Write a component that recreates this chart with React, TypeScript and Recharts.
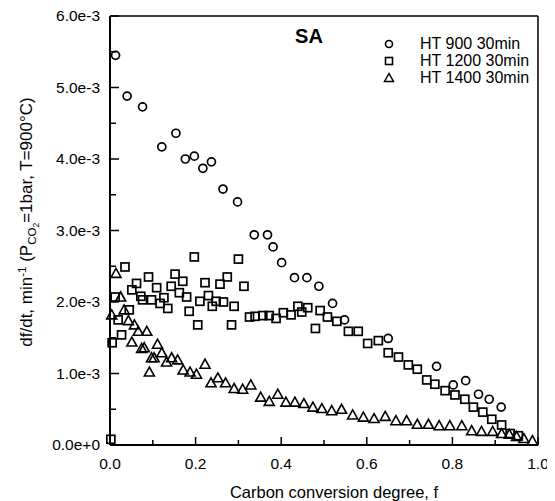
import React from 'react';
import { ScatterChart, Scatter, XAxis, YAxis, ReferenceLine, Legend, Customized } from 'recharts';

const FONT = '"Liberation Sans", Arial, Helvetica, sans-serif';

// HT 900 30min (circles)
const ht900F = [0.013, 0.040, 0.076, 0.121, 0.154, 0.176, 0.197, 0.217, 0.237, 0.264, 0.298, 0.337, 0.368, 0.381, 0.401, 0.431, 0.460, 0.488, 0.520, 0.548, 0.650, 0.763, 0.802, 0.831, 0.861, 0.886, 0.914];
const ht900R = [0.00545, 0.00488, 0.00473, 0.00417, 0.00436, 0.00400, 0.00404, 0.00387, 0.00396, 0.00358, 0.00340, 0.00294, 0.00294, 0.00277, 0.00255, 0.00234, 0.00234, 0.00222, 0.00198, 0.00175, 0.00149, 0.00110, 0.00084, 0.00090, 0.00071, 0.00064, 0.00053];

// HT 1200 30min (squares)
const ht1200F = [0.002, 0.005, 0.012, 0.019, 0.027, 0.035, 0.045, 0.051, 0.062, 0.072, 0.076, 0.090, 0.097, 0.109, 0.117, 0.126, 0.135, 0.143, 0.152, 0.162, 0.170, 0.179, 0.185, 0.197, 0.205, 0.210, 0.222, 0.230, 0.239, 0.248, 0.257, 0.265, 0.274, 0.284, 0.290, 0.300, 0.313, 0.326, 0.339, 0.357, 0.372, 0.388, 0.405, 0.423, 0.439, 0.448, 0.462, 0.480, 0.491, 0.508, 0.530, 0.557, 0.580, 0.602, 0.627, 0.650, 0.674, 0.697, 0.718, 0.740, 0.759, 0.783, 0.806, 0.829, 0.849, 0.871, 0.892, 0.915, 0.935, 0.954];
const ht1200R = [0.00008, 0.00143, 0.00207, 0.00175, 0.00154, 0.00249, 0.00189, 0.00217, 0.00226, 0.00208, 0.00203, 0.00235, 0.00203, 0.00220, 0.00198, 0.00206, 0.00191, 0.00222, 0.00239, 0.00213, 0.00229, 0.00207, 0.00187, 0.00263, 0.00168, 0.00201, 0.00227, 0.00209, 0.00194, 0.00201, 0.00225, 0.00200, 0.00235, 0.00168, 0.00194, 0.00260, 0.00222, 0.00179, 0.00180, 0.00181, 0.00181, 0.00177, 0.00185, 0.00182, 0.00194, 0.00186, 0.00192, 0.00163, 0.00188, 0.00179, 0.00173, 0.00159, 0.00159, 0.00142, 0.00146, 0.00129, 0.00123, 0.00112, 0.00106, 0.00091, 0.00085, 0.00076, 0.00070, 0.00064, 0.00053, 0.00046, 0.00036, 0.00028, 0.00016, 0.00013];

// HT 1400 30min (triangles)
const ht1400F = [0.004, 0.014, 0.025, 0.033, 0.043, 0.051, 0.057, 0.066, 0.074, 0.080, 0.086, 0.092, 0.097, 0.103, 0.111, 0.121, 0.132, 0.144, 0.158, 0.171, 0.187, 0.202, 0.222, 0.236, 0.252, 0.270, 0.290, 0.310, 0.329, 0.352, 0.372, 0.392, 0.411, 0.432, 0.453, 0.474, 0.495, 0.518, 0.541, 0.567, 0.592, 0.617, 0.643, 0.668, 0.693, 0.718, 0.744, 0.769, 0.794, 0.822, 0.845, 0.868, 0.894, 0.915, 0.933, 0.950, 0.967, 0.987];
const ht1400R = [0.00182, 0.00240, 0.00207, 0.00189, 0.00174, 0.00144, 0.00168, 0.00159, 0.00135, 0.00136, 0.00159, 0.00102, 0.00122, 0.00122, 0.00141, 0.00129, 0.00116, 0.00122, 0.00119, 0.00105, 0.00102, 0.00099, 0.00113, 0.00087, 0.00094, 0.00087, 0.00079, 0.00078, 0.00084, 0.00067, 0.00061, 0.00071, 0.00060, 0.00060, 0.00058, 0.00053, 0.00051, 0.00048, 0.00050, 0.00042, 0.00039, 0.00037, 0.00040, 0.00034, 0.00034, 0.00029, 0.00029, 0.00027, 0.00027, 0.00027, 0.00020, 0.00019, 0.00019, 0.00016, 0.00015, 0.00012, 0.00009, 0.00006];

const seriesNames = ['HT 900 30min', 'HT 1200 30min', 'HT 1400 30min'];
const xTicks = [0, 0.1, 0.2, 0.3, 0.4, 0.5, 0.6, 0.7, 0.8, 0.9, 1.0];
const yTicks = [0, 0.0005, 0.001, 0.0015, 0.002, 0.0025, 0.003, 0.0035, 0.004, 0.0045, 0.005, 0.0055, 0.006];

const zip = (f: number[], r: number[]) => f.map((v, i) => ({ f: v, rate: r[i] }));
const d900 = zip(ht900F, ht900R);
const d1200 = zip(ht1200F, ht1200R);
const d1400 = zip(ht1400F, ht1400R);

const TS = 10;
const TM = 0;

const CircleShape = (p: any) => <circle cx={p.cx} cy={p.cy} r={4} fill="none" stroke="#000" strokeWidth={1.7} />;
const SquareShape = (p: any) => <rect x={p.cx - 4} y={p.cy - 4} width={8} height={8} fill="none" stroke="#000" strokeWidth={1.7} />;
const TriShape = (p: any) => (
  <polygon points={`${p.cx},${p.cy - 5} ${p.cx - 5},${p.cy + 4} ${p.cx + 5},${p.cy + 4}`} fill="none" stroke="#000" strokeWidth={1.6} strokeLinejoin="miter" />
);

const XTick = (props: any) => {
  const { x, y, payload } = props;
  const v = payload.value as number;
  const major = Math.round(v * 10) % 2 === 0;
  const axisY = y - TS - TM;
  return (
    <g>
      <line x1={x} x2={x} y1={axisY} y2={axisY - (major ? 8 : 5)} stroke="#000" strokeWidth={1.5} />
      {major && (
        <text x={x} y={axisY + 24} textAnchor="middle" fontSize={15.5} fontFamily={FONT} fill="#000">
          {v.toFixed(1)}
        </text>
      )}
    </g>
  );
};

const YTick = (props: any) => {
  const { x, y, payload } = props;
  const v = payload.value as number;
  const major = Math.round(v * 2000) % 2 === 0;
  const axisX = x + TS + TM;
  return (
    <g>
      <line x1={axisX} x2={axisX + (major ? 9 : 6)} y1={y} y2={y} stroke="#000" strokeWidth={1.5} />
      {major && (
        <text x={axisX - 10} y={y + 5} textAnchor="end" fontSize={15.5} fontFamily={FONT} fill="#000">
          {v.toExponential(1)}
        </text>
      )}
    </g>
  );
};

const legendMarkers = [
  <circle key="c" cx={6} cy={7} r={3.5} fill="none" stroke="#000" strokeWidth={1.6} />,
  <rect key="s" x={2.5} y={3.5} width={7} height={7} fill="none" stroke="#000" strokeWidth={1.6} />,
  <polygon key="t" points="6,2.5 1.5,10.5 10.5,10.5" fill="none" stroke="#000" strokeWidth={1.5} />,
];

const LegendContent = () => (
  <div style={{ fontFamily: FONT, fontSize: 16, color: '#000' }}>
    {seriesNames.map((n, i) => (
      <div key={n} style={{ display: 'flex', alignItems: 'center', height: 17 }}>
        <svg width={12} height={14} style={{ display: 'block' }}>{legendMarkers[i]}</svg>
        <span style={{ marginLeft: 25, lineHeight: '17px', whiteSpace: 'nowrap' }}>{n}</span>
      </div>
    ))}
  </div>
);

const Labels = () => (
  <g fontFamily={FONT} fill="#000">
    <text x={301} y={35} textAnchor="middle" fontSize={20} fontWeight="bold">SA</text>
    <text x={326} y={490} textAnchor="middle" fontSize={16.5}>Carbon conversion degree, f</text>
    <text transform="translate(24,214) rotate(-90)" textAnchor="middle" fontSize={17}>
      df/dt, min
      <tspan dy={-6} fontSize={11.5}>-1</tspan>
      <tspan dy={6}> (P</tspan>
      <tspan dy={4} fontSize={11.5}>CO</tspan>
      <tspan dy={3} fontSize={8.5}>2</tspan>
      <tspan dy={-7}>=1bar, T=900°C)</tspan>
    </text>
  </g>
);

export default function App() {
  return (
    <div style={{ width: 547, height: 493, position: 'relative', fontFamily: FONT }}>
      <ScatterChart width={547} height={493} margin={{ top: 8, right: 17, bottom: 0, left: 0 }}>
        <XAxis
          type="number"
          dataKey="f"
          domain={[0, 1]}
          ticks={xTicks}
          interval={0}
          tickSize={TS}
          tickMargin={TM}
          tickLine={false}
          tick={<XTick />}
          height={56}
          axisLine={{ stroke: '#000', strokeWidth: 2 }}
        />
        <YAxis
          type="number"
          dataKey="rate"
          domain={[0, 0.006]}
          ticks={yTicks}
          interval={0}
          tickSize={TS}
          tickMargin={TM}
          tickLine={false}
          tick={<YTick />}
          width={102}
          axisLine={{ stroke: '#000', strokeWidth: 2 }}
        />
        <ReferenceLine x={1} stroke="#000" strokeWidth={1.5} />
        <ReferenceLine y={0.006} stroke="#000" strokeWidth={1.5} />
        <Scatter name={seriesNames[0]} data={d900} shape={CircleShape} isAnimationActive={false} />
        <Scatter name={seriesNames[1]} data={d1200} shape={SquareShape} isAnimationActive={false} />
        <Scatter name={seriesNames[2]} data={d1400} shape={TriShape} isAnimationActive={false} />
        <Legend
          layout="vertical"
          align="center"
          verticalAlign="middle"
          content={<LegendContent />}
          wrapperStyle={{ position: 'absolute', left: 375, top: 27, width: 'auto', height: 'auto' }}
        />
        <Customized component={Labels} />
      </ScatterChart>
    </div>
  );
}
